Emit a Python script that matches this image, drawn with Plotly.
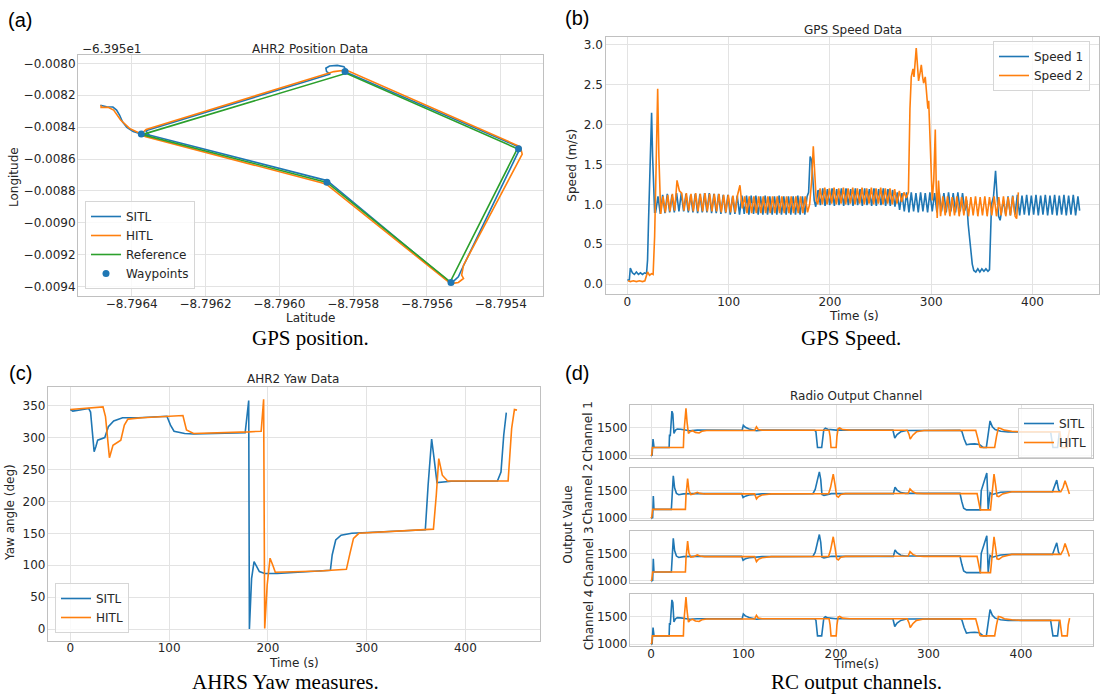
import plotly.graph_objects as go

W, H = 1101, 695
BLUE, ORANGE, GREEN = '#1f77b4', '#ff7f0e', '#2ca02c'
TXT, GRID, SPINE = '#262626', '#e3e3e3', '#c0c0c0'
FONT = 'DejaVu Sans'

# ---------------- (a) AHR2 position (lat, lon - 63.95 offset) ----------------
LAT_TICKS = [-8.7964, -8.7962, -8.7960, -8.7958, -8.7956, -8.7954]
LON_TICKS = [-0.0080, -0.0082, -0.0084, -0.0086, -0.0088, -0.0090, -0.0092, -0.0094]

SITL_POS = [
    (-8.796485, -0.008263), (-8.796468, -0.008272), (-8.796451, -0.008274),
    (-8.796441, -0.008293), (-8.796433, -0.008324), (-8.796425, -0.008366),
    (-8.796413, -0.008401), (-8.796396, -0.008428), (-8.796374, -0.008443),
    (-8.796358, -0.008456), (-8.796353, -0.008447), (-8.796362, -0.008422),
    (-8.795862, -0.008067), (-8.795872, -0.008052), (-8.795874, -0.008031),
    (-8.795864, -0.008017), (-8.795843, -0.008013), (-8.795825, -0.008021),
    (-8.795819, -0.008042), (-8.795816, -0.008059), (-8.795357, -0.008518),
    (-8.795350, -0.008543), (-8.795506, -0.009292), (-8.795515, -0.009338),
    (-8.795530, -0.009369), (-8.795542, -0.009365), (-8.795867, -0.008742),
    (-8.795876, -0.008732), (-8.796353, -0.008449), (-8.796374, -0.008443),
]
HITL_POS = [
    (-8.796483, -0.008263), (-8.796483, -0.008276), (-8.796464, -0.008276),
    (-8.796449, -0.008293), (-8.796430, -0.008355), (-8.796406, -0.008408),
    (-8.796374, -0.008443), (-8.796361, -0.008414), (-8.795852, -0.008052),
    (-8.795819, -0.008042), (-8.795347, -0.008523), (-8.795342, -0.008569),
    (-8.795501, -0.009265), (-8.795506, -0.009327), (-8.795501, -0.009348),
    (-8.795515, -0.009373), (-8.795530, -0.009379), (-8.795542, -0.009369),
    (-8.795872, -0.008759), (-8.795886, -0.008748), (-8.796362, -0.008460),
    (-8.796374, -0.008449),
]
REF_POS = [
    (-8.796372, -0.008447), (-8.795819, -0.008063), (-8.795355, -0.008535),
    (-8.795537, -0.009369), (-8.795871, -0.008746), (-8.796372, -0.008447),
]
WAYPOINTS = [
    (-8.796374, -0.008443), (-8.795822, -0.008052), (-8.795352, -0.008535),
    (-8.795535, -0.009373), (-8.795871, -0.008746),
]

# ---------------- (b) GPS speed (time s, speed m/s) ----------------
SPEED1 = [
    (0, 0.05), (2, 0.05), (3, 0.20), (5, 0.14), (7, 0.12), (9, 0.15), (11, 0.12),
    (13, 0.14), (15, 0.12), (17, 0.14), (19, 0.13), (20, 0.30), (21, 0.80),
    (22, 1.30), (23, 1.80), (24, 2.15), (25, 1.60), (26, 1.10), (27, 0.90),
    (28.0, 0.90), (30.3, 1.10), (32.6, 0.88), (34.9, 1.12), (37.2, 0.89), (39.5, 1.13),
    (41.8, 0.90), (44.1, 1.12), (46.4, 0.90), (48.7, 1.14), (51.0, 0.91), (53.3, 1.14),
    (55.6, 0.91), (57.9, 1.13), (60.2, 0.90), (62.5, 1.12), (64.8, 0.90), (67.1, 1.13),
    (69.4, 0.89), (71.7, 1.13), (74.0, 0.90), (76.3, 1.14), (78.6, 0.90), (80.9, 1.14),
    (83.2, 0.89), (85.5, 1.13), (87.8, 0.89), (90.1, 1.13), (92.4, 0.88), (94.7, 1.12),
    (97.0, 0.89), (99.3, 1.12), (101.6, 0.87), (103.9, 1.10), (106.2, 0.88), (108.5, 1.11),
    (110.8, 0.87), (113.1, 1.11), (115.4, 0.88), (117.7, 1.11), (120.0, 0.87), (122.3, 1.11),
    (124.6, 0.88), (126.9, 1.11), (129.2, 0.87), (131.5, 1.10), (133.8, 0.87), (136.1, 1.11),
    (138.4, 0.87), (140.7, 1.10), (143.0, 0.87), (145.3, 1.10), (147.6, 0.87), (149.9, 1.11),
    (152.2, 0.87), (154.5, 1.10), (156.8, 0.87), (159.1, 1.10), (161.4, 0.87), (163.7, 1.10),
    (166.0, 0.87), (168.3, 1.11), (170.6, 0.87), (172.9, 1.10), (175.2, 0.87), (177.5, 1.10),
    (179.0, 1.15), (180.5, 1.60), (182.0, 1.55), (183.0, 1.35), (184.5, 1.05),
    (186.0, 0.97), (188.3, 1.18), (190.6, 0.99), (192.9, 1.20), (195.2, 0.98), (197.5, 1.19),
    (199.8, 0.99), (202.1, 1.20), (204.4, 0.98), (206.7, 1.19), (209.0, 0.99), (211.3, 1.20),
    (213.6, 0.98), (215.9, 1.20), (218.2, 0.99), (220.5, 1.19), (222.8, 0.98), (225.1, 1.20),
    (227.4, 0.99), (229.7, 1.19), (232.0, 0.98), (234.3, 1.20), (236.6, 0.99), (238.9, 1.19),
    (241.2, 0.98), (243.5, 1.20), (245.8, 0.98), (248.1, 1.19), (250.4, 0.99), (252.7, 1.20),
    (255.0, 0.98), (257.3, 1.19), (259.6, 0.98), (261.9, 1.18), (264.2, 0.97), (266.5, 1.15),
    (268.8, 0.93), (271.1, 1.14), (273.4, 0.91), (275.7, 1.15), (278.0, 0.90), (280.3, 1.15),
    (282.6, 0.91), (284.9, 1.14), (287.2, 0.90), (289.5, 1.15), (291.8, 0.91), (294.1, 1.14),
    (296.4, 0.90), (298.7, 1.15), (301.0, 0.91), (303.3, 1.14), (305.6, 0.90), (307.9, 1.15),
    (310.2, 0.91), (312.5, 1.14), (314.8, 0.90), (317.1, 1.15), (319.4, 0.91), (321.7, 1.14),
    (324.0, 0.90), (326.3, 1.15), (328.6, 0.91), (330.9, 1.14), (333.2, 0.92),
    (335.0, 1.05), (336.5, 0.75), (338.5, 0.50), (340.5, 0.25), (342.0, 0.17), (344, 0.15),
    (346, 0.19), (348, 0.15), (350, 0.19), (352, 0.16), (354, 0.19), (356, 0.16),
    (357.5, 0.18), (358.5, 0.70), (359.5, 1.00), (361.5, 1.10), (363.5, 1.42), (365.0, 1.10),
    (366.5, 0.85), (368.0, 0.80), (369.5, 0.90),
    (371.2, 1.05), (373.5, 0.87), (375.8, 1.10), (378.1, 0.86), (380.4, 1.11), (382.7, 0.87),
    (385.0, 1.12), (387.3, 0.86), (389.6, 1.11), (391.9, 0.87), (394.2, 1.12), (396.5, 0.86),
    (398.8, 1.11), (401.1, 0.87), (403.4, 1.12), (405.7, 0.86), (408.0, 1.11), (410.3, 0.87),
    (412.6, 1.12), (414.9, 0.86), (417.2, 1.11), (419.5, 0.87), (421.8, 1.12), (424.1, 0.86),
    (426.4, 1.11), (428.7, 0.87), (431.0, 1.12), (433.3, 0.86), (435.6, 1.11), (437.9, 0.87),
    (440.2, 1.12), (442.5, 0.86), (444.8, 1.10), (446.5, 0.92),
]
SPEED2 = [
    (0.7, 0.04), (3, 0.03), (6, 0.04), (9, 0.03), (12, 0.04), (15, 0.03), (17.4, 0.04),
    (19, 0.12), (20, 0.15), (22, 0.11), (24, 0.13), (25.5, 0.12), (27, 0.60), (28.5, 1.50),
    (30, 2.45), (31.2, 1.60),
    (33.0, 0.88), (35.3, 1.10), (37.6, 0.90), (39.9, 1.12), (42.2, 0.91), (44.5, 1.13),
    (46.8, 0.92), (49.1, 1.30), (51.4, 1.17), (53.7, 1.14), (56.0, 0.92), (58.3, 1.14),
    (60.6, 0.92), (62.9, 1.13), (65.2, 0.91), (67.5, 1.14), (69.8, 0.91), (72.1, 1.13),
    (74.4, 0.91), (76.7, 1.14), (79.0, 0.91), (81.3, 1.13), (83.6, 0.91), (85.9, 1.13),
    (88.2, 0.91), (90.5, 1.13), (92.8, 0.90), (95.1, 1.12), (97.4, 0.90), (99.7, 1.12),
    (102.0, 0.90), (104.3, 1.11), (106.6, 0.90), (108.9, 1.12), (111.2, 1.24), (113.5, 0.95),
    (115.8, 1.10), (118.1, 0.89), (120.4, 1.10), (122.7, 0.89), (125.0, 1.10), (127.3, 0.89),
    (129.6, 1.10), (131.9, 0.89), (134.2, 1.10), (136.5, 0.89), (138.8, 1.10), (141.1, 0.89),
    (143.4, 1.10), (145.7, 0.89), (148.0, 1.10), (150.3, 0.89), (152.6, 1.10), (154.9, 0.89),
    (157.2, 1.10), (159.5, 0.89), (161.8, 1.10), (164.1, 0.89), (166.4, 1.10), (168.7, 0.89),
    (171.0, 1.10), (173.3, 0.89), (175.6, 1.10), (177.9, 0.90),
    (180.0, 1.00), (182.0, 1.30), (183.6, 1.73), (185.0, 1.40), (186.5, 1.05),
    (188.0, 1.00), (190.3, 1.20), (192.6, 1.00), (194.9, 1.21), (197.2, 1.00), (199.5, 1.20),
    (201.8, 1.01), (204.1, 1.21), (206.4, 1.00), (208.7, 1.20), (211.0, 1.01), (213.3, 1.21),
    (215.6, 1.00), (217.9, 1.20), (220.2, 1.01), (222.5, 1.21), (224.8, 1.00), (227.1, 1.20),
    (229.4, 1.01), (231.7, 1.21), (234.0, 1.00), (236.3, 1.20), (238.6, 1.01), (240.9, 1.21),
    (243.2, 1.00), (245.5, 1.20), (247.8, 1.01), (250.1, 1.21), (252.4, 1.00), (254.7, 1.20),
    (257.0, 1.01), (259.3, 1.20), (261.6, 1.00), (263.9, 1.19), (266.2, 1.01), (268.5, 1.17),
    (270.8, 1.03), (273.1, 1.15), (275.4, 1.08),
    (277.5, 1.15), (279.0, 2.20), (280.3, 2.60), (282.0, 2.70), (283.0, 2.60), (285.2, 2.96),
    (286.5, 2.70), (287.5, 2.55), (289.0, 2.65), (290.2, 2.75), (291.5, 2.60), (292.5, 2.52),
    (294.1, 2.60), (295.5, 2.35), (296.7, 2.20), (297.5, 2.30), (298.5, 1.90), (300.0, 1.30),
    (301.0, 1.05), (302.5, 1.30), (304.0, 1.94), (305.0, 1.20), (305.9, 0.83), (307.2, 1.30),
    (309.2, 0.85),
    (311.5, 1.10), (313.8, 0.86), (316.1, 1.10), (318.4, 0.85), (320.7, 1.09), (323.0, 0.86),
    (325.3, 1.10), (327.6, 0.85), (329.9, 1.09), (332.2, 0.86), (334.5, 1.10), (336.8, 0.85),
    (339.1, 1.09), (341.4, 0.86), (343.7, 1.10), (346.0, 0.85), (348.3, 1.09), (350.6, 0.86),
    (352.9, 1.10), (355.2, 0.85), (357.5, 1.09), (359.8, 0.86), (362.1, 1.10), (364.4, 0.85),
    (366.7, 1.09), (369.0, 0.86), (371.3, 1.10), (373.6, 0.85), (375.9, 1.09), (378.2, 0.86),
    (380.5, 1.10), (382.8, 0.85), (384.3, 0.82), (386.0, 1.15),
]

# ---------------- (c) AHR2 yaw (time s, deg) ----------------
YAW_SITL = [
    (0, 344), (2.5, 341.5), (18.7, 345.5), (20.5, 340), (22.3, 309), (24.1, 278),
    (25.9, 286), (27.7, 296), (34.9, 300), (38.5, 317), (43.9, 326), (52.9, 331),
    (69, 331), (97.8, 333.5), (101.4, 319.5), (105, 310), (115.8, 306.5), (124.8, 305.5),
    (177, 307.5), (180.6, 358), (181.3, 0), (183.5, 79), (186, 105.5), (188.5, 97.5),
    (191.4, 90), (196.8, 87), (209.4, 87), (263.3, 92), (265.1, 116), (268.7, 139.5),
    (274.1, 147), (284.9, 150), (356.8, 155), (359.4, 155.5), (362.2, 225), (365.8, 297.5),
    (368.3, 267), (371.2, 229.5), (385.6, 231.5), (432.4, 232), (436, 246), (438.8, 304),
    (441.4, 339),
]
YAW_HITL = [
    (0, 344), (10, 345), (25, 346.5), (33.1, 348), (35.6, 333), (38.5, 278), (39.6, 268.5),
    (43.2, 288), (49.3, 293.5), (51.1, 296), (54.7, 319.5), (58.3, 329), (72.7, 331),
    (114, 334.5), (117.6, 312), (124.8, 306.5), (180.6, 309), (193.2, 310), (195.7, 360),
    (196.8, 1), (199.3, 69), (202.2, 111), (205, 100), (207.5, 89), (252.5, 91),
    (279.5, 93.5), (283.1, 118.5), (286.7, 142), (292.1, 150), (367.6, 156.5), (370.5, 210),
    (373, 267), (376.6, 241), (382, 232), (443.2, 232), (446.8, 314.5), (449.6, 344),
    (452.2, 343),
]

# ---------------- (d) radio output channels (time s, value) ----------------
CH1_SITL = [
    (0, 1000), (1.2, 1010), (2.2, 1300), (2.8, 1180), (3.3, 1150), (19.6, 1150), (20.0, 1380),
    (20.8, 1350), (21.6, 1600), (22.6, 1800), (23.6, 1750), (24.8, 1400), (26.5, 1460),
    (28.5, 1480), (32, 1475), (36, 1465), (42, 1450), (50, 1460), (60, 1458), (98.5, 1458),
    (99.8, 1545), (102, 1510), (106, 1480), (110, 1465), (114, 1450), (120, 1460),
    (177, 1458), (178.3, 1430), (179.3, 1200), (180.0, 1150), (184.5, 1150), (185.5, 1350),
    (186.8, 1470), (188.5, 1495), (191, 1475), (200, 1460), (261.5, 1460), (263.5, 1320),
    (266, 1380), (270, 1430), (276, 1455), (334, 1458), (336, 1440), (338.5, 1300),
    (341, 1200), (345, 1210), (350, 1215), (355, 1205), (356.5, 1190), (358, 1160),
    (359, 1150), (362.5, 1150), (364.2, 1400), (366.5, 1625), (369, 1520), (372, 1470),
    (378, 1440), (386, 1430), (432, 1430), (433.5, 1300), (434.5, 1150), (439.5, 1150),
    (440.5, 1300), (441.5, 1430),
]
CH1_HITL = [
    (0, 1000), (0.8, 1020), (1.5, 1150), (35.0, 1150), (35.5, 1400), (36.5, 1650),
    (37.8, 1850), (39.0, 1600), (40.5, 1400), (42, 1430), (45, 1450), (48, 1420),
    (52, 1410), (55, 1440), (60, 1455), (112, 1455), (114, 1520), (116, 1470), (120, 1458),
    (192.5, 1458), (193.6, 1350), (194.6, 1150), (200.2, 1150), (201.0, 1350), (202.3, 1490),
    (204, 1500), (207, 1470), (215, 1460), (277, 1458), (279, 1380), (280.2, 1300),
    (283, 1370), (287, 1430), (295, 1455), (351, 1458), (353.5, 1300), (355.5, 1160),
    (356.5, 1150), (371.5, 1150), (373.5, 1350), (375.5, 1500), (378, 1490), (382, 1460),
    (390, 1440), (400, 1430), (442, 1430), (443.2, 1300), (444.2, 1150), (450, 1150),
    (451, 1350), (452.5, 1470),
]
CH2_SITL = [
    (0, 1000), (1.8, 1010), (2.5, 1400), (3.2, 1160), (22.0, 1160), (22.8, 1400),
    (24.1, 1770), (25.5, 1550), (27.5, 1450), (30, 1425), (35, 1440), (45, 1445), (60, 1445),
    (98, 1445), (99.5, 1375), (102, 1400), (106, 1420), (112, 1430), (120, 1440),
    (175, 1445), (177.5, 1520), (180, 1700), (182, 1840), (183.5, 1700), (184.8, 1430),
    (187, 1415), (195, 1445), (262, 1445), (263.8, 1560), (266, 1510), (270, 1465),
    (275, 1450), (334, 1450), (336, 1300), (338, 1180), (341, 1150), (356, 1150),
    (357, 1500), (360, 1650), (363, 1820), (363.8, 1500), (364.5, 1160), (366.5, 1460),
    (369, 1430), (378, 1470), (390, 1480), (434, 1480), (436, 1560), (438.6, 1690),
    (440.5, 1520), (442, 1480),
]
CH2_HITL = [
    (0, 1000), (0.8, 1020), (1.8, 1160), (37.2, 1160), (37.8, 1400), (39.6, 1720),
    (41, 1500), (43, 1430), (46, 1440), (50, 1470), (53, 1450), (58, 1440), (112, 1440),
    (114, 1350), (116, 1390), (120, 1420), (130, 1440), (192, 1445), (194, 1550),
    (197, 1800), (199, 1600), (200.7, 1400), (202.5, 1380), (205, 1430), (210, 1445),
    (278, 1450), (280, 1530), (283, 1480), (287, 1450), (295, 1445), (352.5, 1445),
    (354.5, 1300), (356, 1150), (367, 1150), (369, 1500), (370.8, 1800), (372.5, 1600),
    (374, 1400), (376, 1390), (380, 1440), (390, 1480), (443, 1480), (445.5, 1560),
    (447.6, 1680), (450, 1560), (452.3, 1440),
]
CH3_SITL, CH3_HITL = CH2_SITL, CH2_HITL
CH4_SITL, CH4_HITL = CH1_SITL, CH1_HITL
CHANNELS = [("Channel 1", CH1_SITL, CH1_HITL), ("Channel 2", CH2_SITL, CH2_HITL),
            ("Channel 3", CH3_SITL, CH3_HITL), ("Channel 4", CH4_SITL, CH4_HITL)]


def xs(pts):
    return [p[0] for p in pts]


def ys(pts):
    return [p[1] for p in pts]


def fx(p):
    return p / W


def fy(p):
    return 1 - p / H


fig = go.Figure()
LW = 1.6

# (a)
fig.add_trace(go.Scatter(x=xs(SITL_POS), y=ys(SITL_POS), mode='lines', name='SITL',
                         line=dict(color=BLUE, width=LW), xaxis='x', yaxis='y', legend='legend'))
fig.add_trace(go.Scatter(x=xs(HITL_POS), y=ys(HITL_POS), mode='lines', name='HITL',
                         line=dict(color=ORANGE, width=LW), xaxis='x', yaxis='y', legend='legend'))
fig.add_trace(go.Scatter(x=xs(REF_POS), y=ys(REF_POS), mode='lines', name='Reference',
                         line=dict(color=GREEN, width=LW), xaxis='x', yaxis='y', legend='legend'))
fig.add_trace(go.Scatter(x=xs(WAYPOINTS), y=ys(WAYPOINTS), mode='markers', name='Waypoints',
                         marker=dict(color=BLUE, size=7), xaxis='x', yaxis='y', legend='legend'))
# (b)
fig.add_trace(go.Scatter(x=xs(SPEED1), y=ys(SPEED1), mode='lines', name='Speed 1',
                         line=dict(color=BLUE, width=LW), xaxis='x2', yaxis='y2', legend='legend2'))
fig.add_trace(go.Scatter(x=xs(SPEED2), y=ys(SPEED2), mode='lines', name='Speed 2',
                         line=dict(color=ORANGE, width=LW), xaxis='x2', yaxis='y2', legend='legend2'))
# (c)
fig.add_trace(go.Scatter(x=xs(YAW_SITL), y=ys(YAW_SITL), mode='lines', name='SITL',
                         line=dict(color=BLUE, width=LW), xaxis='x3', yaxis='y3', legend='legend3'))
fig.add_trace(go.Scatter(x=xs(YAW_HITL), y=ys(YAW_HITL), mode='lines', name='HITL',
                         line=dict(color=ORANGE, width=LW), xaxis='x3', yaxis='y3', legend='legend3'))
# (d)
for i, (lab, s, h) in enumerate(CHANNELS):
    ax = str(4 + i)
    fig.add_trace(go.Scatter(x=xs(s), y=ys(s), mode='lines', name='SITL', showlegend=(i == 0),
                             line=dict(color=BLUE, width=LW), xaxis='x' + ax, yaxis='y' + ax,
                             legend='legend4'))
    fig.add_trace(go.Scatter(x=xs(h), y=ys(h), mode='lines', name='HITL', showlegend=(i == 0),
                             line=dict(color=ORANGE, width=LW), xaxis='x' + ax, yaxis='y' + ax,
                             legend='legend4'))


def axis(domain, rng, anchor, **kw):
    d = dict(domain=domain, range=rng, anchor=anchor, showline=True, mirror=True,
             linecolor=SPINE, linewidth=1.3, showgrid=True, gridcolor=GRID, gridwidth=1,
             zeroline=False, ticks='', automargin=False,
             tickfont=dict(family=FONT, size=12, color=TXT))
    d.update(kw)
    return d


def mtxt(v, fmt):
    s = format(v, fmt)
    return s.replace('-', '\u2212')


XSO, YSO = -4, -1
layout = dict(
    width=W, height=H, margin=dict(l=0, r=0, t=0, b=0, autoexpand=False),
    paper_bgcolor='white', plot_bgcolor='white', hovermode=False,
    font=dict(family=FONT, size=12, color=TXT),
)
layout['xaxis'] = axis([fx(78.2), fx(542.5)], [-8.796545, -8.795287], 'y',
                       tickvals=LAT_TICKS, ticktext=[mtxt(v, '.4f') for v in LAT_TICKS],
                       ticklabelstandoff=XSO)
layout['yaxis'] = axis([fy(296), fy(55)], [-0.009458, -0.007948], 'x',
                       tickvals=LON_TICKS, ticktext=[mtxt(v, '.4f') for v in LON_TICKS],
                       ticklabelstandoff=YSO)
layout['xaxis2'] = axis([fx(605.5), fx(1099)], [-21.5, 465.6], 'y2', dtick=100,
                        ticklabelstandoff=XSO)
layout['yaxis2'] = axis([fy(294), fy(36.7)], [-0.1255, 3.104], 'x2', dtick=0.5,
                        tickformat='.1f', ticklabelstandoff=YSO)
layout['xaxis3'] = axis([fx(48), fx(540)], [-22.6, 475.5], 'y3', dtick=100,
                        ticklabelstandoff=XSO)
layout['yaxis3'] = axis([fy(640.7), fy(387.3)], [-18.3, 378.8], 'x3', dtick=50,
                        ticklabelstandoff=YSO)
D_Y = [(405, 457.7), (468, 520), (530.7, 582.7), (593.8, 646)]
for i, (t, b) in enumerate(D_Y):
    ax = str(4 + i)
    layout['xaxis' + ax] = axis([fx(630), fx(1093)], [-22.7, 477.8], 'y' + ax, dtick=100,
                                showticklabels=(i == 3), ticklabelstandoff=XSO)
    layout['yaxis' + ax] = axis([fy(b), fy(t)], [967, 1910], 'x' + ax, tickvals=[1000, 1500],
                                ticklabelstandoff=YSO)

leg = dict(bgcolor='rgba(255,255,255,0.8)', bordercolor='#d6d6d6', borderwidth=1,
           font=dict(family=FONT, size=12, color=TXT), tracegroupgap=0)
layout['legend'] = dict(leg, x=fx(85), y=fy(289), xanchor='left', yanchor='bottom')
layout['legend2'] = dict(leg, x=fx(993), y=fy(41), xanchor='left', yanchor='top')
layout['legend3'] = dict(leg, x=fx(55), y=fy(633), xanchor='left', yanchor='bottom')
layout['legend4'] = dict(leg, x=fx(1018), y=fy(408), xanchor='left', yanchor='top')

anns = []


def ann(text, x, y, size=12, family=FONT, color=TXT, angle=0, xanchor='center'):
    anns.append(dict(text=text, x=fx(x), y=fy(y), xref='paper', yref='paper', showarrow=False,
                     xanchor=xanchor, yanchor='middle', textangle=angle,
                     font=dict(family=family, size=size, color=color)))


SERIF = 'Liberation Serif'
SANS = 'Liberation Sans'
# panel labels
ann('(a)', 20, 20, 20, SANS, 'black')
ann('(b)', 577, 18, 20, SANS, 'black')
ann('(c)', 20, 373, 20, SANS, 'black')
ann('(d)', 577, 373, 20, SANS, 'black')
# (a)
ann('\u22126.395e1', 80, 49, xanchor='left')
ann('AHR2 Position Data', 310, 49)
ann('Longitude', 14, 177, angle=-90)
ann('Latitude', 310, 318)
ann('GPS position.', 310, 338, 21, SERIF, 'black')
# (b)
ann('GPS Speed Data', 852.6, 30)
ann('Speed (m/s)', 572, 165.7, angle=-90)
ann('Time (s)', 853.7, 316)
ann('GPS Speed.', 851, 338, 21, SERIF, 'black')
# (c)
ann('AHR2 Yaw Data', 293.4, 379.3)
ann('Yaw angle (deg)', 10, 513, angle=-90)
ann('Time (s)', 293.7, 663)
ann('AHRS Yaw measures.', 285.5, 682, 21, SERIF, 'black')
# (d)
ann('Radio Output Channel', 856, 395.7)
ann('Output Value', 567.8, 525, angle=-90)
for i, (t, b) in enumerate(D_Y):
    ann(CHANNELS[i][0], 588.4, (t + b) / 2, angle=-90)
ann('Time(s)', 856, 664.3)
ann('RC output channels.', 856, 682, 21, SERIF, 'black')
layout['annotations'] = anns

fig.update_layout(**layout)
fig.write_html('out.html', config={'displayModeBar': False},
               post_script="document.body.style.margin='0';document.body.style.padding='0';")
